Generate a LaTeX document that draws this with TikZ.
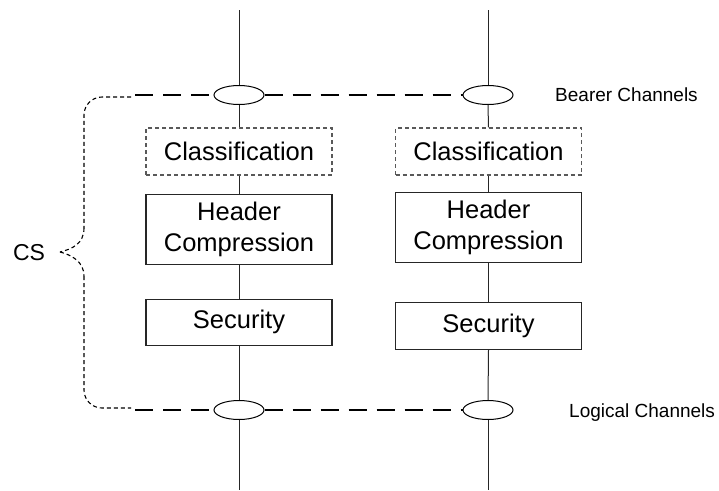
\documentclass[tikz,border=0pt]{standalone}
\usepackage{fontspec}
\setmainfont{Liberation Sans}
\usetikzlibrary{shapes.geometric}
\begin{document}
\begin{tikzpicture}[x=1pt,y=-1pt,
  box/.style={draw=black!85, line width=1.1pt, minimum width=186pt, inner sep=0pt, align=center, font=\fontsize{25.5}{31}\selectfont},
  dbox/.style={box, draw=black!65, dash pattern=on 4pt off 3pt},
  chan/.style={draw, ellipse, minimum width=50pt, minimum height=19pt, inner sep=0pt, line width=1pt},
  wire/.style={draw=black!85, line width=1pt},
  bus/.style={line width=2.6pt, dash pattern=on 18pt off 10pt},
  bracel/.style={line width=1.1pt, dash pattern=on 4pt off 3pt},
  lbl/.style={font=\fontsize{19}{22}\selectfont, anchor=base west, inner sep=0pt}
]
\useasboundingbox (0,0) rectangle (719,490);
% column ends
\coordinate (Ltop) at (239,10);
\coordinate (Lbot) at (239,490);
\coordinate (Rtop) at (488,10);
\coordinate (Rbot) at (488,490);
% channel ellipses
\node[chan] (LB) at (239,95) {};
\node[chan] (RB) at (488,95) {};
\node[chan] (LL) at (239,410) {};
\node[chan] (RL) at (488,410) {};
% left column boxes
\node[dbox, minimum height=47pt] (Lc) at (239,151.5) {Classification};
\node[box, minimum height=70pt] (Lh) at (239,229.3) {Header\\Compression};
\node[box, minimum height=46pt] (Ls) at (239,322.2) {Security};
% right column boxes
\node[dbox, minimum height=47pt] (Rc) at (488.5,151.5) {Classification};
\node[box, minimum height=70pt] (Rh) at (488.5,227.5) {Header\\Compression};
\node[box, minimum height=46.5pt] (Rs) at (488.5,326) {Security};
% vertical wires
\draw[wire] (Ltop) -- (LB.north);
\draw[wire] (LB.south) -- (Lc.north);
\draw[wire] (Lc.south) -- (Lh.north);
\draw[wire] (Lh.south) -- (Ls.north);
\draw[wire] (Ls.south) -- (LL.north);
\draw[wire] (LL.south) -- (Lbot);
\draw[wire] (Rtop) -- (RB.north);
\draw[wire] (RB.south) -- (Rc.north);
\draw[wire] (Rc.south) -- (Rh.north);
\draw[wire] (Rh.south) -- (Rs.north);
\draw[wire] (Rs.south) -- (RL.north);
\draw[wire] (RL.south) -- (Rbot);
% channel buses
\coordinate (busT) at (135,95);
\coordinate (busB) at (135,410);
\draw[bus] (busT) -- (LB.west);
\draw[bus] (LB.east) -- (RB.west);
\draw[bus] (busB) -- (LL.west);
\draw[bus] (LL.east) -- (RL.west);
% labels
\node[lbl] (bearer) at (555,101) {Bearer Channels};
\node[lbl] (logical) at (569,417) {Logical Channels};
\node[font=\fontsize{23}{26}\selectfont, anchor=base, inner sep=0pt] (cs) at (29,260) {CS};
% CS brace
\coordinate (braceT) at (131,97);
\coordinate (braceB) at (131,408);
\coordinate (tip) at (60,252);
\draw[bracel, rounded corners=18pt] (braceT) -- (84,97) -- (84,228);
\draw[bracel] (84,228) .. controls (84,244) and (72,249) .. (tip);
\draw[bracel] (tip) .. controls (72,255) and (84,262) .. (84,276);
\draw[bracel, rounded corners=18pt] (84,276) -- (84,408) -- (braceB);
\end{tikzpicture}
\end{document}
